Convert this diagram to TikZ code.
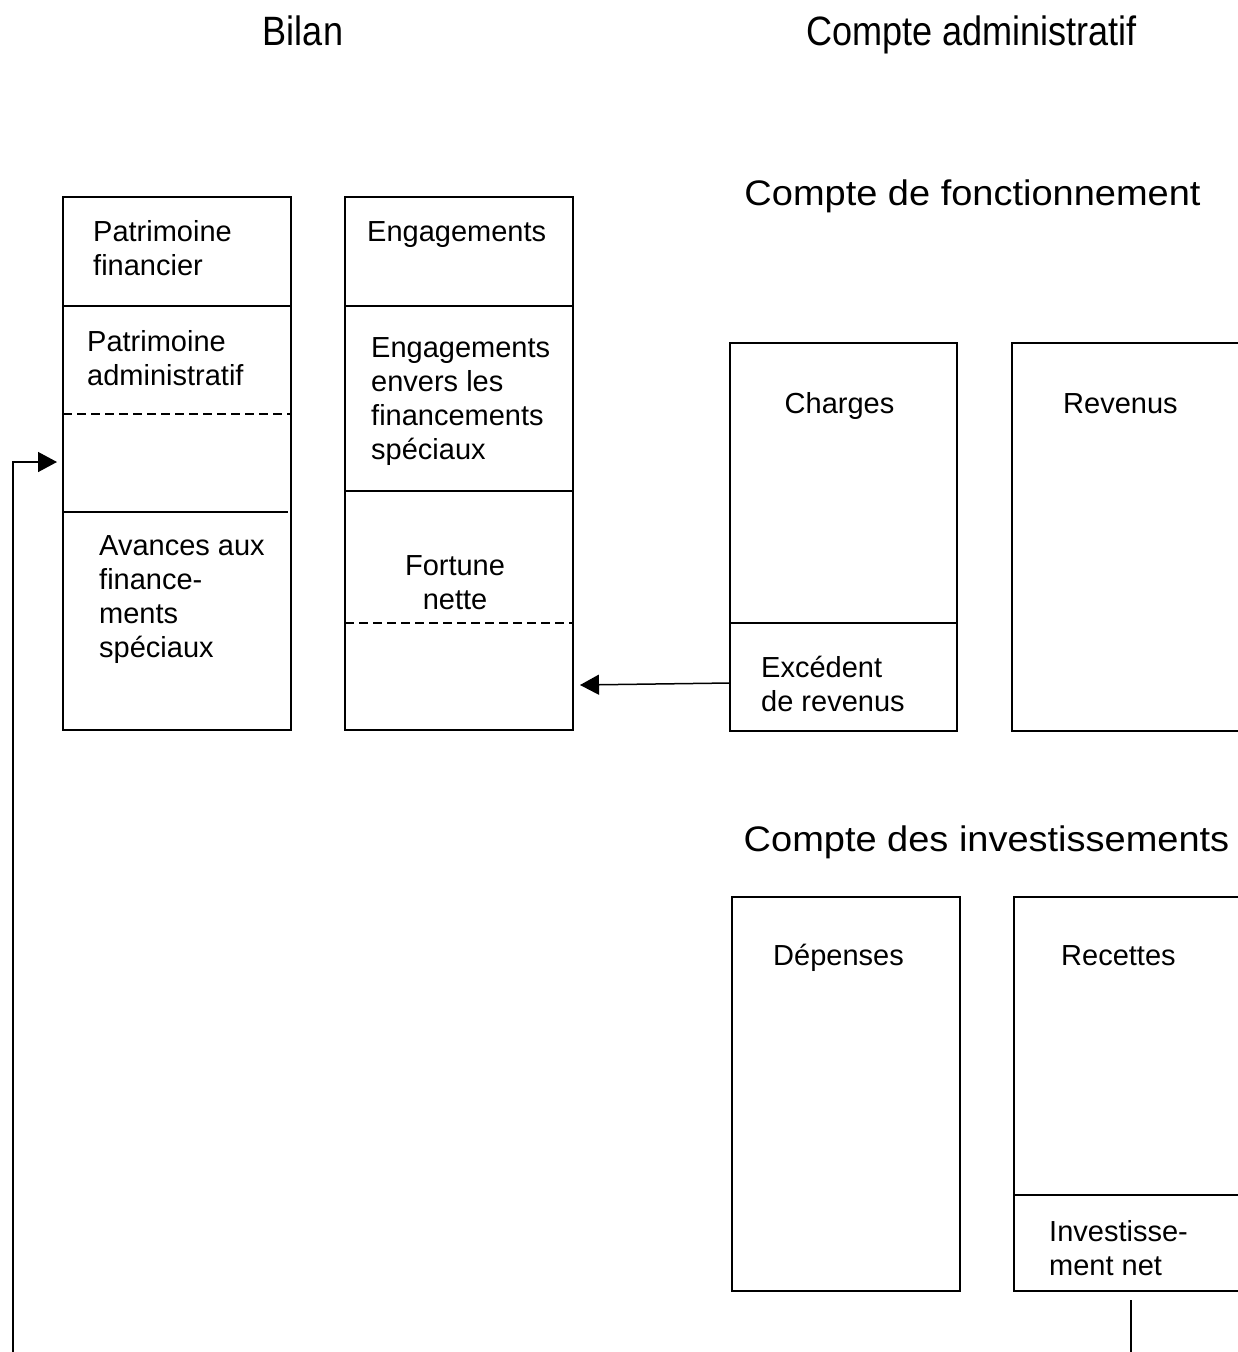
\documentclass[tikz,border=0pt]{standalone}
\usepackage{fontspec}
\setmainfont{Liberation Sans}
\usetikzlibrary{arrows.meta}
\begin{document}
\begin{tikzpicture}[x=1pt,y=-1pt,
  box/.style={draw, line width=1.5pt, rectangle, inner sep=0pt, outer sep=0pt, anchor=north west},
  sep/.style={line width=1.5pt},
  dsep/.style={line width=1.5pt, dash pattern=on 9pt off 5pt},
  lbl/.style={inner sep=0pt, align=left, anchor=base west, font=\fontsize{29}{34}\selectfont},
  clbl/.style={inner sep=0pt, align=center, anchor=base, font=\fontsize{29}{34}\selectfont},
  ttl/.style={inner sep=0pt, anchor=base, font=\fontsize{41}{48}\selectfont},
  sub/.style={inner sep=0pt, anchor=base, font=\fontsize{35.5}{42}\selectfont},
  conn/.style={line width=1.5pt},
  tip/.style={-{Triangle[length=19pt,width=20pt]}}
]
\useasboundingbox (0,0) rectangle (1238,1352);
\clip (0,0) rectangle (1238,1352);

% titles
\node[ttl] (tbilan) at (303,45) {\scalebox{0.88}[1]{Bilan}};
\node[ttl] (tadmin) at (971.5,45) {\scalebox{0.88}[1]{Compte administratif}};
\node[sub] (tfonc) at (972.5,205) {\scalebox{1.07}[1]{Compte de fonctionnement}};
\node[sub] (tinv) at (986.5,851) {\scalebox{1.07}[1]{Compte des investissements}};

% boxes
\node[box, minimum width=228pt, minimum height=533pt] (A) at (63,197) {};
\node[box, minimum width=228pt, minimum height=533pt] (B) at (345,197) {};
\node[box, minimum width=227pt, minimum height=388pt] (C) at (730,343) {};
\node[box, minimum width=260pt, minimum height=388pt] (D) at (1012,343) {};
\node[box, minimum width=228pt, minimum height=394pt] (E) at (732,897) {};
\node[box, minimum width=260pt, minimum height=394pt] (F) at (1014,897) {};

% dividers
\draw[sep] (63,306) -- (291,306);
\draw[dsep] (63,414) -- (291,414);
\draw[sep] (63,512) -- (288,512);
\draw[sep] (345,306) -- (573,306);
\draw[sep] (345,491) -- (573,491);
\draw[dsep] (345,623) -- (573,623);
\draw[sep] (730,623) -- (957,623);
\draw[sep] (1014,1195) -- (1274,1195);

% labels (anchor = baseline of the last line)
\node[lbl] (pf) at (93,275) {Patrimoine\\financier};
\node[lbl] (pa) at (87,385) {Patrimoine\\administratif};
\node[lbl] (av) at (99,657) {Avances aux\\finance-\\ments\\spéciaux};
\node[lbl] (en) at (367,241) {Engagements};
\node[lbl] (ef) at (371,459) {Engagements\\envers les\\financements\\spéciaux};
\node[clbl] (fn) at (455,609) {Fortune\\nette};
\node[clbl] (ch) at (839.5,413) {Charges};
\node[lbl] (ex) at (761,711) {Excédent\\de revenus};
\node[lbl] (re) at (1063,413) {Revenus};
\node[clbl] (de) at (838.5,965) {Dépenses};
\node[lbl] (rc) at (1061,965) {Recettes};
\node[lbl] (in) at (1049,1275) {Investisse-\\ment net};

% connectors
\coordinate (excout) at (730,683);
\coordinate (fnin) at (580,685);
\draw[conn,tip] (excout) -- (fnin);
\coordinate (invout) at (1131,1300);
\coordinate (invend) at (1131,1360);
\draw[conn] (invout) -- (invend);
\coordinate (lbot) at (13,1360);
\coordinate (ain) at (57,462);
\draw[conn,tip] (lbot) |- (ain);
\end{tikzpicture}
\end{document}
